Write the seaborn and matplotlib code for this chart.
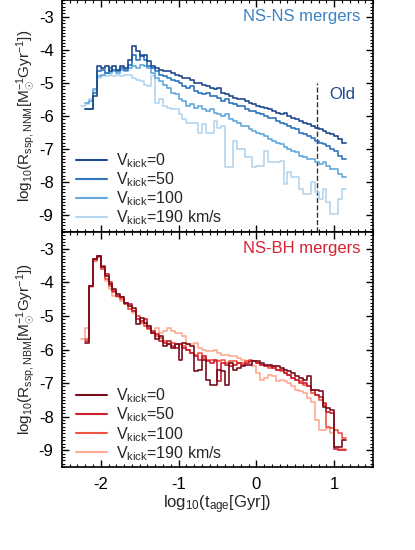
import numpy as np
import pandas as pd
import matplotlib
matplotlib.use("Agg")
import matplotlib.pyplot as plt
import seaborn as sns
from matplotlib.ticker import MultipleLocator

# histogram bins in log10(t_age / Gyr)
bin_start = -2.25
bin_width = 0.05

kick_labels = [r"V$_{\rm kick}$=0", r"V$_{\rm kick}$=50",
               r"V$_{\rm kick}$=100", r"V$_{\rm kick}$=190 km/s"]

nan = np.nan

# NS-NS merger rate per bin, log10(R) [Msun^-1 Gyr^-1]
nsns_v0 = [nan, -5.8, -5.8, -5.4, -4.5, -4.55, -4.5, -4.65, -4.5, -4.6,
           -4.5, -4.55, -4.3, -3.9, -4.05, -4.2, -4.15, -4.35, -4.5, -4.55,
           -4.6, -4.65, -4.65, -4.7, -4.75, -4.8, -4.85, -4.85, -4.9, -5.0,
           -5.0, -5.05, -5.1, -5.15, -5.2, -5.15, -5.3, -5.35, -5.4, -5.45,
           -5.5, -5.5, -5.55, -5.6, -5.65, -5.7, -5.72, -5.75, -5.8, -5.85,
           -5.9, -5.95, -5.9, -6.0, -6.05, -6.1, -6.15, -6.2, -6.25, -6.3,
           -6.35, -6.4, -6.45, -6.5, -6.55, -6.6, -6.7, -6.8]
nsns_v50 = [nan, -5.8, -5.8, -5.3, -4.65, -4.6, -4.7, -4.55, -4.6, -4.65,
            -4.55, -4.6, -4.45, -4.15, -4.3, -4.15, -4.3, -4.5, -4.55, -4.65,
            -4.75, -4.8, -4.85, -4.9, -4.95, -5.0, -5.1, -5.15, -5.1, -5.25,
            -5.3, -5.35, -5.3, -5.4, -5.4, -5.45, -5.55, -5.5, -5.6, -5.65,
            -5.7, -5.7, -5.8, -5.85, -5.85, -5.9, -5.95, -6.0, -6.05, -6.05,
            -6.15, -6.2, -6.25, -6.3, -6.35, -6.4, -6.5, -6.55, -6.6, -6.65,
            -6.75, -6.8, -6.85, -6.9, -7.0, -7.05, -7.2, -7.3]
nsns_v100 = [nan, -5.6, -5.55, -5.2, -4.8, -4.75, -4.7, -4.7, -4.65, -4.7,
             -4.6, -4.65, -4.55, -4.5, -4.55, -4.45, -4.5, -4.55, -4.7, -4.85,
             -4.95, -5.05, -5.15, -5.3, -5.35, -5.5, -5.55, -5.7, -5.65, -5.75,
             -5.7, -5.8, -5.85, -5.8, -5.9, -5.95, -6.0, -5.95, -6.1, -6.15,
             -6.2, -6.3, -6.3, -6.4, -6.45, -6.5, -6.55, -6.6, -6.7, -6.75,
             -6.8, -6.85, -6.95, -7.0, -7.05, -7.1, -7.2, -7.25, -7.3, -7.3,
             -7.4, -7.45, -7.4, -7.5, -7.6, -7.6, -7.75, -7.85]
nsns_v190 = [-5.7, -5.65, -5.5, -5.25, -4.85, -4.8, -4.8, -4.75, -4.8, -4.75,
             -4.8, -4.75, -4.75, -4.85, -4.9, -4.95, -5.05, -5.1, -4.8, -5.6,
             -5.5, -5.7, -5.75, -5.8, -5.8, -5.95, -6.1, -6.2, -6.2, -6.2,
             -6.5, -6.25, -6.5, -6.5, -6.15, -6.35, -6.3, -7.55, -7.55, -6.75,
             -7.0, -7.0, -7.25, -7.25, -7.55, -7.5, -7.5, -7.05, -7.4, -7.4,
             -7.4, -7.35, -8.05, -7.7, -7.85, -7.85, -8.2, -8.35, -8.35, -8.0,
             -8.3, -8.5, -8.2, -8.6, -8.95, -8.95, -8.5, -8.2]

# NS-BH merger rate per bin
nsbh_v0 = [nan, -5.8, -4.1, -3.3, -3.2, -3.55, -3.8, -4.05, -4.2, -4.35,
           -4.45, -4.6, -4.7, -4.75, -5.25, -5.05, -5.2, -5.3, -5.5, -5.7,
           -5.6, -5.9, -5.85, -5.95, -5.85, -6.3, -5.8, -5.85, -5.9, -6.65,
           -6.6, -6.3, -6.9, -7.05, -7.05, -6.6, -6.65, -7.05, -6.4, -6.6,
           -6.55, -6.5, -6.45, -6.45, -6.35, -6.35, -6.4, -6.45, -6.45, -6.5,
           -6.5, -6.55, -6.6, -6.65, -6.7, -6.8, -6.85, -6.9, -6.8, -7.2,
           -7.2, -7.25, -7.7, -7.75, -7.8, -8.9, -8.9, -8.7]
nsbh_v50 = [nan, -5.75, -4.1, -3.3, -3.2, -3.5, -3.75, -4.0, -4.25, -4.4,
            -4.45, -4.6, -4.65, -4.85, -5.1, -5.15, -5.1, -5.35, -5.45, -5.55,
            -5.75, -5.8, -5.75, -5.9, -5.95, -5.85, -5.95, -6.0, -6.1, -6.2,
            -6.3, -6.2, -6.35, -6.4, -6.3, -6.95, -6.4, -6.45, -6.5, -6.45,
            -6.4, -6.45, -6.4, -6.35, -6.35, -6.4, -6.45, -6.5, -6.5, -6.55,
            -6.6, -6.6, -6.7, -6.75, -6.85, -6.9, -7.0, -7.0, -7.1, -7.2,
            -7.35, -7.4, -7.6, -7.85, -7.9, -8.95, -9.0, -9.0]
nsbh_v100 = [nan, -5.7, -4.1, -3.35, -3.25, -3.6, -3.9, -4.1, -4.3, -4.4,
             -4.5, -4.65, -4.8, -4.85, -5.0, -5.2, -5.3, -5.4, -5.5, -5.6,
             -5.65, -5.75, -5.85, -5.8, -5.85, -5.85, -5.9, -6.0, -6.1, -6.15,
             -6.1, -6.25, -6.3, -6.3, -6.35, -6.35, -6.3, -6.4, -6.35, -6.35,
             -6.4, -6.4, -6.35, -6.3, -6.35, -6.4, -6.45, -6.5, -6.55, -6.5,
             -6.6, -6.65, -6.7, -6.75, -6.85, -6.9, -6.95, -7.05, -7.1, -7.3,
             -7.35, -7.5, -7.65, -8.3, -8.35, -8.4, -8.5, -8.65]
nsbh_v190 = [-5.7, -5.35, -4.15, -3.3, -3.2, -3.6, -3.95, -4.2, -4.4, -4.45,
             -4.55, -4.65, -4.8, -4.9, -5.0, -5.15, -5.3, -5.3, -5.5, -5.35,
             -5.5, -5.45, -5.35, -5.45, -5.5, -5.5, -5.6, -5.85, -5.85, -5.8,
             -5.95, -6.0, -6.05, -6.05, -6.0, -6.1, -6.15, -6.15, -6.2, -6.2,
             -6.25, -6.3, -6.35, -6.4, -6.5, -6.7, -6.9, -6.85, -6.75, -6.8,
             -6.95, -6.9, -6.95, -7.0, -7.1, -7.2, -7.25, -7.3, -7.45, -7.55,
             -8.1, -8.4, -8.4, -8.35, -8.5, -8.9, -8.95, -8.95]

old_age_cut = 0.78  # log10(6 Gyr)

blues = ["#1f4a8f", "#2f76bd", "#62a8de", "#b5d6ee"]
reds = ["#7a0d1c", "#cc1f30", "#f0553f", "#fcab92"]


def to_long(series_list):
    """Turn per-bin values into step-post rows (one row per bin edge)"""
    n_bins = len(series_list[0])
    edges = np.round(bin_start + bin_width * np.arange(n_bins + 1), 3)
    frames = []
    for label, vals in zip(kick_labels, series_list):
        vals = list(vals) + [vals[-1]]
        frames.append(pd.DataFrame({"log_age": edges, "log_rate": vals, "kick": label}))
    return pd.concat(frames, ignore_index=True).dropna()


sns.set_theme(style="ticks")
plt.rcParams["font.family"] = ["Liberation Sans", "DejaVu Sans"]
plt.rcParams["mathtext.fontset"] = "custom"
plt.rcParams["mathtext.rm"] = "Liberation Sans"
plt.rcParams["mathtext.it"] = "Liberation Sans:italic"
plt.rcParams["axes.unicode_minus"] = False

fig = plt.figure(figsize=(4.15, 5.5), dpi=100)
ax_top = fig.add_axes([0.149, 1 - 232 / 550, 0.75, 232 / 550])
ax_bot = fig.add_axes([0.149, 1 - 467 / 550, 0.75, 235 / 550])

panels = [
    (ax_top, [nsns_v0, nsns_v50, nsns_v100, nsns_v190], blues,
     r"log$_{10}$(R$_{\rm ssp,NNM}$[M$_{\odot}^{-1}$Gyr$^{-1}$])"),
    (ax_bot, [nsbh_v0, nsbh_v50, nsbh_v100, nsbh_v190], reds,
     r"log$_{10}$(R$_{\rm ssp,NBM}$[M$_{\odot}^{-1}$Gyr$^{-1}$])"),
]

for ax, series, colors, ylab in panels:
    df = to_long(series)
    sns.lineplot(data=df, x="log_age", y="log_rate", hue="kick",
                 hue_order=kick_labels, palette=colors, estimator=None,
                 drawstyle="steps-post", linewidth=1.2, ax=ax, legend=False)
    # smallest kick drawn on top
    for k, line in enumerate(ax.get_lines()):
        line.set_zorder(3 - 0.1 * k)

    handles = [plt.Line2D([], [], color=c, lw=1.5) for c in colors]
    ax.legend(handles, kick_labels, loc="lower left", frameon=False,
              fontsize=11.5, handlelength=1.95, handletextpad=0.55,
              labelspacing=0.02, borderaxespad=0.1,
              bbox_to_anchor=(0.02, -0.015))

    ax.set_xlim(-2.5, 1.5)
    ax.set_ylim(-9.5, -2.5)
    ax.xaxis.set_major_locator(MultipleLocator(1))
    ax.xaxis.set_minor_locator(MultipleLocator(0.1))
    ax.yaxis.set_minor_locator(MultipleLocator(0.1))
    ax.set_yticks([-3, -4, -5, -6, -7, -8, -9])
    ax.tick_params(which="both", direction="in", top=True, right=True,
                   labelsize=12, colors="black")
    ax.tick_params(which="major", length=5, width=1)
    ax.tick_params(which="minor", length=2.5, width=0.8)
    ax.tick_params(axis="y", which="major", pad=6)
    ax.tick_params(axis="x", which="major", pad=7)
    for sp in ax.spines.values():
        sp.set_color("black")
        sp.set_linewidth(1.2)
    ax.set_ylabel(ylab, fontsize=11, labelpad=1)

ax_top.set_xlabel("")
ax_top.tick_params(labelbottom=False)
ax_bot.set_xlabel(r"log$_{10}$(t$_{\rm age}$[Gyr])", fontsize=12, labelpad=1)

ax_top.vlines(old_age_cut, -9.5, -5.0, colors="#333333", linestyles="--", linewidth=1)
ax_top.text(1.1, -5.35, "Old", color="#1f4a8f", fontsize=12, ha="center", va="center")
ax_top.text(0.96, -3.0, "NS-NS mergers", color="#3a82c4", fontsize=12,
            ha="right", va="center", transform=ax_top.get_yaxis_transform())
ax_bot.text(0.96, -3.0, "NS-BH mergers", color="#d92232", fontsize=12,
            ha="right", va="center", transform=ax_bot.get_yaxis_transform())

fig.savefig("out.png", dpi=100)
